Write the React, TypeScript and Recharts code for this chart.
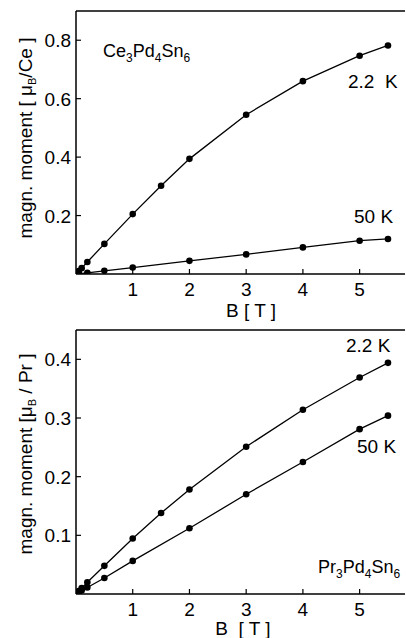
import { LineChart, Line, XAxis, YAxis, ReferenceLine } from "recharts";

const FONT = "'Liberation Sans', Arial, sans-serif";

// Ce3Pd4Sn6
const ceB22 = [0, 0.02, 0.05, 0.1, 0.2, 0.5, 1, 1.5, 2, 3, 4, 5, 5.5];
const ceM22 = [0, 0.004, 0.01, 0.02, 0.041, 0.103, 0.205, 0.302, 0.394, 0.545, 0.66, 0.747, 0.782];
const ceB50 = [0, 0.05, 0.2, 0.5, 1, 2, 3, 4, 5, 5.5];
const ceM50 = [0, 0.001, 0.004, 0.011, 0.022, 0.045, 0.067, 0.091, 0.114, 0.12];

// Pr3Pd4Sn6
const prB22 = [0, 0.02, 0.05, 0.1, 0.2, 0.5, 1, 1.5, 2, 3, 4, 5, 5.5];
const prM22 = [0, 0.002, 0.005, 0.01, 0.02, 0.048, 0.0945, 0.138, 0.178, 0.251, 0.314, 0.369, 0.394];
const prB50 = [0, 0.02, 0.05, 0.1, 0.2, 0.5, 1, 2, 3, 4, 5, 5.5];
const prM50 = [0, 0.001, 0.003, 0.006, 0.011, 0.0273, 0.0564, 0.112, 0.17, 0.225, 0.281, 0.304];

const xTicks = [1, 2, 3, 4, 5];
const ceTicks = [0.2, 0.4, 0.6, 0.8];
const prTicks = [0.1, 0.2, 0.3, 0.4];

const toPoints = (b: number[], m: number[]) => b.map((v, i) => ({ B: v, m: m[i] }));

const XTick = (props: any) => {
  const { x, y, payload } = props;
  return (
    <g>
      <line x1={x} y1={y} x2={x} y2={y - 5} stroke="#000" strokeWidth={1.2} />
      <text x={x} y={y + 22} textAnchor="middle" fontSize={19} fontFamily={FONT} fill="#000">
        {payload.value}
      </text>
    </g>
  );
};

const YTick = (props: any) => {
  const { x, y, payload } = props;
  return (
    <g>
      <line x1={x} y1={y} x2={x + 5} y2={y} stroke="#000" strokeWidth={1.2} />
      <text x={x - 5} y={y + 7} textAnchor="end" fontSize={19} fontFamily={FONT} fill="#000">
        {payload.value.toFixed(1)}
      </text>
    </g>
  );
};

const dot = { r: 3.3, fill: "#000", stroke: "#000", strokeWidth: 0 };

function Panel({
  height,
  top,
  yMax,
  yTicks,
  xHeight,
  series,
}: {
  height: number;
  top: number;
  yMax: number;
  yTicks: number[];
  xHeight: number;
  series: { name: string; data: { B: number; m: number }[] }[];
}) {
  return (
    <LineChart width={406} height={height} margin={{ top, right: 1, left: 0, bottom: 0 }}>
      <XAxis
        type="number"
        dataKey="B"
        domain={[0, 5.8]}
        ticks={xTicks}
        height={xHeight}
        tickSize={0}
        tickMargin={0}
        tickLine={false}
        tick={<XTick />}
        axisLine={{ stroke: "#000", strokeWidth: 1.5 }}
        allowDataOverflow
      />
      <YAxis
        type="number"
        dataKey="m"
        domain={[0, yMax]}
        ticks={yTicks}
        width={76}
        tickSize={0}
        tickMargin={0}
        tickLine={false}
        tick={<YTick />}
        axisLine={{ stroke: "#000", strokeWidth: 1.5 }}
        allowDataOverflow
      />
      <ReferenceLine y={yMax} stroke="#000" strokeWidth={1.5} />
      {series.map((s) => (
        <Line
          key={s.name}
          data={s.data}
          dataKey="m"
          type="linear"
          stroke="#000"
          strokeWidth={1.3}
          dot={dot}
          activeDot={false}
          isAnimationActive={false}
        />
      ))}
    </LineChart>
  );
}

export default function App() {
  const txt = { fontFamily: FONT, fontSize: 19, fill: "#000" } as const;
  return (
    <div style={{ position: "absolute", left: 0, top: 0, width: 406, height: 638, background: "#fff" }}>
      <div style={{ position: "absolute", left: 0, top: 0 }}>
        <Panel
          height={320}
          top={11}
          yMax={0.9}
          yTicks={ceTicks}
          xHeight={46}
          series={[
            { name: "2.2 K", data: toPoints(ceB22, ceM22) },
            { name: "50 K", data: toPoints(ceB50, ceM50) },
          ]}
        />
      </div>
      <div style={{ position: "absolute", left: 0, top: 320 }}>
        <Panel
          height={318}
          top={10}
          yMax={0.45}
          yTicks={prTicks}
          xHeight={44}
          series={[
            { name: "2.2 K", data: toPoints(prB22, prM22) },
            { name: "50 K", data: toPoints(prB50, prM50) },
          ]}
        />
      </div>
      <svg
        width={406}
        height={638}
        style={{ position: "absolute", left: 0, top: 0, pointerEvents: "none" }}
      >
        <text {...txt} x={103} y={57} fontSize={18}>
          Ce<tspan fontSize={12} dy={5}>3</tspan>
          <tspan dy={-5}>Pd</tspan>
          <tspan fontSize={12} dy={5}>4</tspan>
          <tspan dy={-5}>Sn</tspan>
          <tspan fontSize={12} dy={5}>6</tspan>
        </text>
        <text {...txt} x={348} y={88} xmlSpace="preserve">2.2{"\u00a0\u00a0"}K</text>
        <text {...txt} x={354} y={223}>50 K</text>
        <text {...txt} x={251} y={317} textAnchor="middle">B [ T ]</text>

        <text {...txt} x={346} y={352}>2.2 K</text>
        <text {...txt} x={357} y={453}>50 K</text>
        <text {...txt} x={318} y={573} fontSize={18}>
          Pr<tspan fontSize={12} dy={5}>3</tspan>
          <tspan dy={-5}>Pd</tspan>
          <tspan fontSize={12} dy={5}>4</tspan>
          <tspan dy={-5}>Sn</tspan>
          <tspan fontSize={12} dy={5}>6</tspan>
        </text>
        <text {...txt} x={243} y={635} textAnchor="middle">B{"\u00a0\u00a0"}[ T ]</text>

        <text {...txt} transform="translate(32,138) rotate(-90)" textAnchor="middle">
          magn. moment [ μ<tspan fontSize={11} dy={4}>B</tspan>
          <tspan dy={-4}>/Ce ]</tspan>
        </text>
        <text {...txt} transform="translate(32,454) rotate(-90)" textAnchor="middle">
          magn. moment [μ<tspan fontSize={11} dy={4}>B</tspan>
          <tspan dy={-4}> / Pr ]</tspan>
        </text>
      </svg>
    </div>
  );
}
